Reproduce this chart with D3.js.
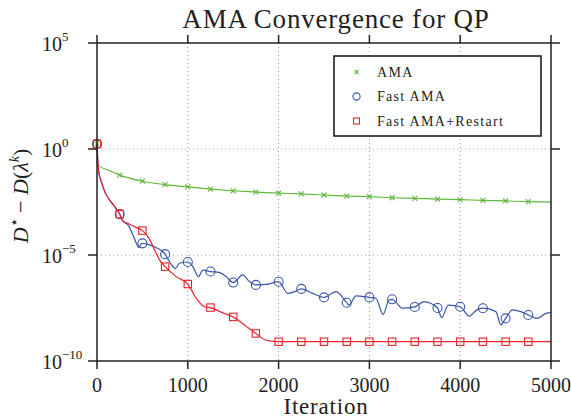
<html>
<head>
<script src="https://d3js.org/d3.v7.min.js"></script>
<style>
body { margin: 0; padding: 0; background: #fff; }
text { font-family: "Liberation Serif", "Times New Roman", serif; fill: #222; }
</style>
</head>
<body>
<svg id="chart" width="571" height="419"></svg>
<script>

// values are log10 of D* - D(lambda^k)
var amaIter = [0, 2, 120, 250, 500, 750, 1000, 1250, 1500, 1750, 2000, 2250, 2500, 2750, 3000, 3250, 3500, 3750, 4000, 4250, 4500, 4750, 5000];
var amaLog = [0.24, -0.75, -0.99, -1.23, -1.52, -1.68, -1.79, -1.89, -1.97, -2.03, -2.08, -2.12, -2.17, -2.22, -2.25, -2.30, -2.33, -2.36, -2.39, -2.42, -2.45, -2.48, -2.51];

var fastIter = [0, 8, 11, 19, 48, 85, 140, 195, 250, 286, 341, 396, 433, 458, 488, 500, 580, 650, 750, 799, 865, 909, 1000, 1056, 1118, 1166, 1250, 1351, 1423, 1500, 1605, 1680, 1750, 1863, 2000, 2101, 2175, 2250, 2376, 2500, 2633, 2750, 2775, 2853, 3000, 3071, 3151, 3216, 3250, 3288, 3362, 3500, 3600, 3750, 3797, 3868, 4000, 4100, 4180, 4250, 4393, 4448, 4500, 4576, 4668, 4750, 4852, 4944, 5000];
var fastLog = [0.24, -0.5, -0.75, -1.07, -1.54, -2.01, -2.41, -2.72, -3.07, -3.40, -3.58, -4.06, -4.45, -4.65, -4.47, -4.45, -4.52, -4.65, -4.96, -5.32, -5.63, -5.39, -5.33, -5.55, -6.02, -5.71, -5.78, -5.83, -6.02, -6.30, -5.94, -6.26, -6.41, -6.39, -6.26, -6.81, -6.73, -6.60, -6.81, -7.0, -6.73, -7.25, -7.36, -6.93, -7.0, -7.04, -7.80, -7.12, -7.09, -7.2, -7.51, -7.45, -7.2, -7.5, -7.96, -7.36, -7.44, -7.88, -7.6, -7.51, -7.67, -8.30, -7.99, -7.59, -7.67, -7.83, -7.99, -7.75, -7.72];

var restartIter = [0, 8, 11, 19, 48, 85, 140, 195, 250, 286, 341, 414, 500, 561, 630, 690, 750, 873, 1000, 1093, 1184, 1250, 1380, 1500, 1623, 1750, 1862, 2000, 2250, 2500, 2750, 3000, 3250, 3500, 3750, 4000, 4250, 4500, 4750, 5000];
var restartLog = [0.24, -0.5, -0.75, -1.07, -1.54, -2.01, -2.41, -2.72, -3.07, -3.40, -3.51, -3.66, -3.85, -4.13, -4.72, -5.24, -5.55, -6.02, -6.37, -7.04, -7.44, -7.48, -7.72, -7.92, -8.30, -8.70, -9.02, -9.09, -9.09, -9.09, -9.09, -9.09, -9.09, -9.09, -9.09, -9.09, -9.09, -9.09, -9.09, -9.09];

var xTicks = [0, 1000, 2000, 3000, 4000, 5000];
var yTickExp = [5, 0, -5, -10];
var legendNames = ["AMA", "Fast AMA", "Fast AMA+Restart"];
var markerEvery = 250;

var green = "#62b83c", blue = "#3a55a8", red = "#e8232b";

var svg = d3.select("#chart");
var pLeft = 97, pRight = 551, pTop = 43, pBottom = 361;

var x = d3.scaleLinear().domain([0, 5000]).range([pLeft, pRight]);
var y = d3.scaleLog().domain([1e-10, 1e5]).range([pBottom, pTop]);

function pts(iters, logs) {
  return iters.map(function(d, i) { return {it: d, v: Math.pow(10, logs[i])}; });
}
var series = [
  {name: legendNames[0], color: green, shape: "x", data: pts(amaIter, amaLog)},
  {name: legendNames[1], color: blue, shape: "o", data: pts(fastIter, fastLog)},
  {name: legendNames[2], color: red, shape: "s", data: pts(restartIter, restartLog)}
];

// grid
svg.selectAll(".gx").data(xTicks.slice(1, -1)).enter().append("line")
  .attr("x1", function(d) { return x(d); }).attr("x2", function(d) { return x(d); })
  .attr("y1", pTop).attr("y2", pBottom)
  .attr("stroke", "#999").attr("stroke-width", 1).attr("stroke-dasharray", "1,3");
svg.selectAll(".gy").data(yTickExp.slice(1, -1)).enter().append("line")
  .attr("x1", pLeft).attr("x2", pRight)
  .attr("y1", function(d) { return y(Math.pow(10, d)); }).attr("y2", function(d) { return y(Math.pow(10, d)); })
  .attr("stroke", "#999").attr("stroke-width", 1).attr("stroke-dasharray", "1,3");

// lines and markers
var line = d3.line().x(function(d) { return x(d.it); }).y(function(d) { return y(d.v); }).curve(d3.curveMonotoneX);

function marker(g, shape, color, cx, cy, s) {
  if (shape === "x") {
    g.append("path").attr("d", "M" + (cx - s) + "," + (cy - s) + "L" + (cx + s) + "," + (cy + s) + "M" + (cx - s) + "," + (cy + s) + "L" + (cx + s) + "," + (cy - s))
      .attr("stroke", color).attr("stroke-width", 1.1).attr("fill", "none");
  } else if (shape === "o") {
    g.append("circle").attr("cx", cx).attr("cy", cy).attr("r", s)
      .attr("stroke", color).attr("stroke-width", 1.1).attr("fill", "none");
  } else {
    g.append("rect").attr("x", cx - s).attr("y", cy - s).attr("width", 2 * s).attr("height", 2 * s)
      .attr("stroke", color).attr("stroke-width", 1.1).attr("fill", "none");
  }
}

series.forEach(function(s) {
  var g = svg.append("g");
  g.append("path").datum(s.data).attr("d", line)
    .attr("fill", "none").attr("stroke", s.color).attr("stroke-width", 1.2);
  s.data.filter(function(d) { return d.it % markerEvery === 0 && d.it < 5000; }).forEach(function(d) {
    marker(g, s.shape, s.color, x(d.it), y(d.v), s.shape === "x" ? 2.5 : (s.shape === "o" ? 4.5 : 3.7));
  });
});

// frame
var ax = svg.append("g").attr("stroke", "#222").attr("stroke-width", 1.5);
ax.append("rect").attr("x", pLeft).attr("y", pTop).attr("width", pRight - pLeft).attr("height", pBottom - pTop).attr("fill", "none");
xTicks.forEach(function(t) {
  ax.append("line").attr("x1", x(t)).attr("x2", x(t)).attr("y1", pBottom).attr("y2", pBottom + 8);
  ax.append("line").attr("x1", x(t)).attr("x2", x(t)).attr("y1", pTop).attr("y2", pTop - 8);
});
yTickExp.forEach(function(e) {
  var yy = y(Math.pow(10, e));
  ax.append("line").attr("x1", pLeft - 9).attr("x2", pLeft).attr("y1", yy).attr("y2", yy);
  ax.append("line").attr("x1", pRight).attr("x2", pRight + 9).attr("y1", yy).attr("y2", yy);
});

// tick labels
svg.selectAll(".xl").data(xTicks).enter().append("text")
  .attr("x", function(d) { return x(d); }).attr("y", 392)
  .attr("text-anchor", "middle").style("font-size", "20px").text(function(d) { return d; });
yTickExp.forEach(function(e) {
  var t = svg.append("text").attr("x", 42).attr("y", y(Math.pow(10, e)) + 8).style("font-size", "20px");
  t.append("tspan").text("10");
  t.append("tspan").attr("dy", -10).style("font-size", "13px").text(e < 0 ? "\u2212" + (-e) : e);
});

// titles
svg.append("text").attr("x", 336).attr("y", 28).attr("text-anchor", "middle")
  .style("font-size", "27px").style("letter-spacing", "0.8px").text("AMA Convergence for QP");
svg.append("text").attr("x", 326).attr("y", 414).attr("text-anchor", "middle")
  .style("font-size", "23px").style("letter-spacing", "0.8px").text("Iteration");

var yl = svg.append("text").attr("transform", "translate(28,196) rotate(-90)")
  .attr("text-anchor", "middle").style("font-size", "22px");
yl.append("tspan").style("font-style", "italic").text("D");
yl.append("tspan").attr("dy", -9).style("font-size", "15px").text("\u22c6");
yl.append("tspan").attr("dy", 9).text(" \u2212 ");
yl.append("tspan").style("font-style", "italic").text("D");
yl.append("tspan").text("(");
yl.append("tspan").style("font-style", "italic").text("\u03bb");
yl.append("tspan").attr("dy", -9).style("font-size", "14px").style("font-style", "italic").text("k");
yl.append("tspan").attr("dy", 9).text(")");

// legend
var lg = svg.append("g");
lg.append("rect").attr("x", 334).attr("y", 56).attr("width", 207).attr("height", 80)
  .attr("fill", "#fff").attr("stroke", "#111").attr("stroke-width", 1.5);
series.forEach(function(s, i) {
  var ly = 72 + i * 24.5;
  marker(lg, s.shape, s.color, 356.5, ly, s.shape === "x" ? 2 : (s.shape === "o" ? 3.6 : 3));
  lg.append("text").attr("x", 377).attr("y", ly + 4.5).style("font-size", "14px")
    .style("letter-spacing", "1.3px").text(s.name);
});

</script>
</body>
</html>
